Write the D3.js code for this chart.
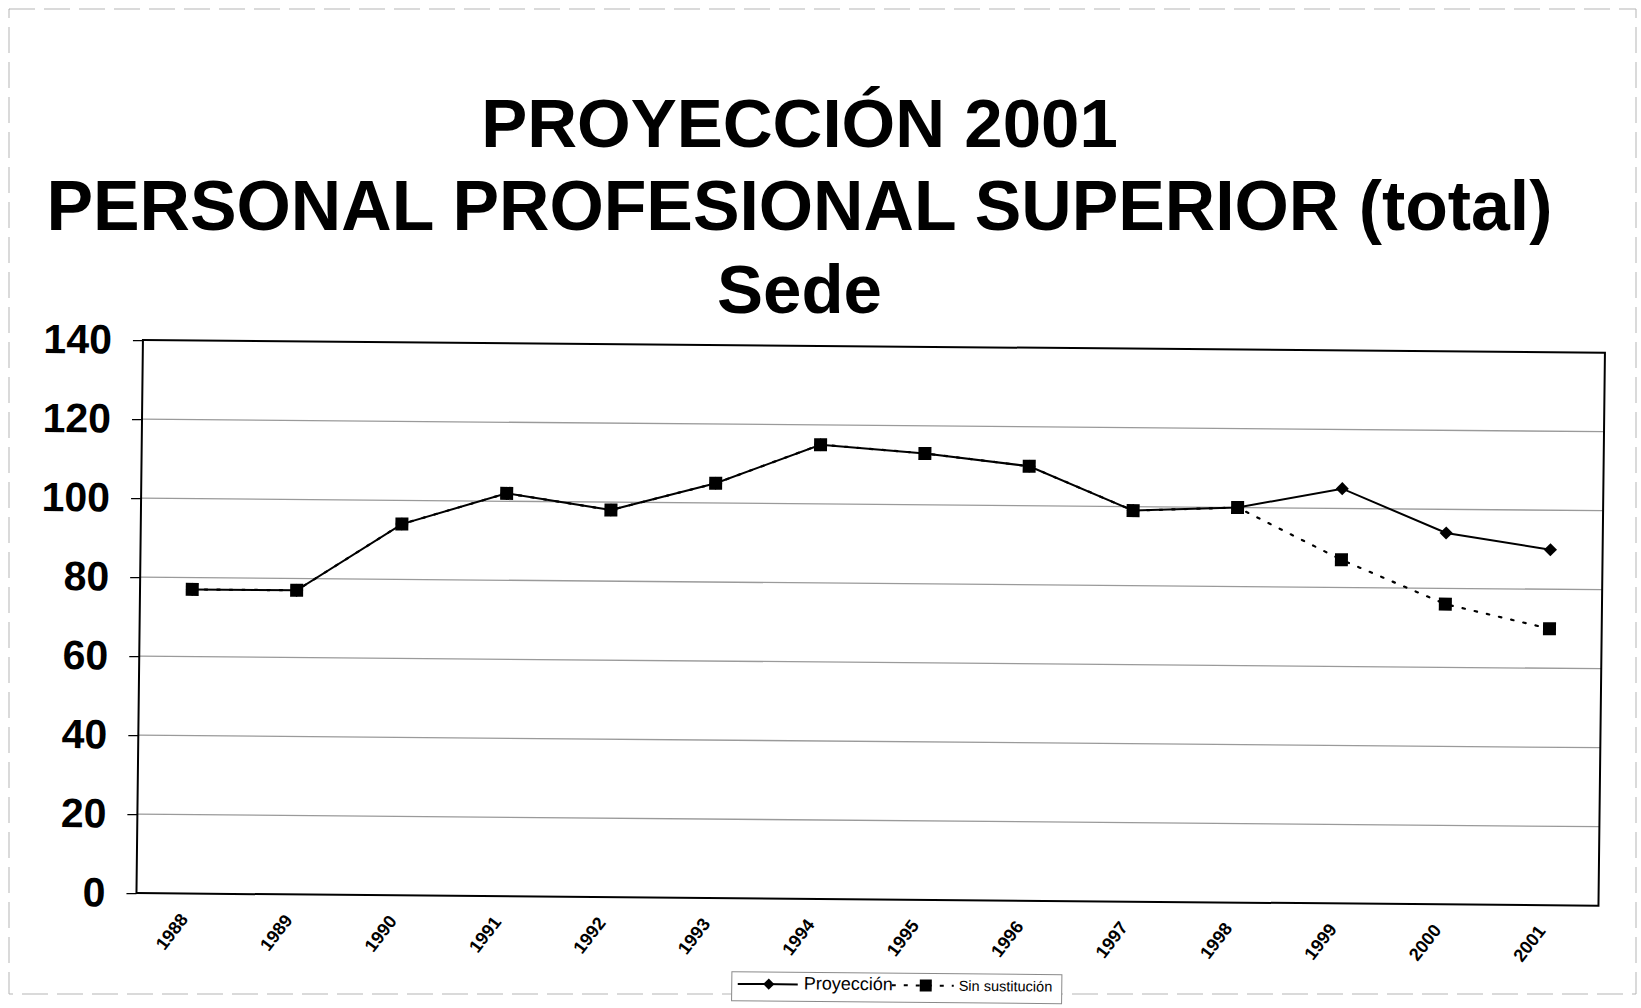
<!DOCTYPE html>
<html>
<head>
<meta charset="utf-8">
<script src="https://cdn.jsdelivr.net/npm/d3@7"></script>
<style>
  html, body { margin: 0; padding: 0; background: #fff; }
  svg { display: block; }
  text { font-family: "Liberation Sans", Arial, Helvetica, sans-serif; }
</style>
</head>
<body>
<svg id="chart" width="1641" height="1008"></svg>
<script>
// ---- data ----
const years = ["1988","1989","1990","1991","1992","1993","1994","1995","1996","1997","1998","1999","2000","2001"];
const proyeccion     = [77, 77, 94, 102, 98, 105, 115, 113, 110, 99, 100, 105, 94, 90];
const sinSustitucion = [77, 77, 94, 102, 98, 105, 115, 113, 110, 99, 100, 87, 76, 70];
const yTicks = [0, 20, 40, 60, 80, 100, 120, 140];
const gridValues = [20, 40, 60, 80, 100, 120];
const titleLines = ["PROYECCIÓN 2001", "PERSONAL PROFESIONAL SUPERIOR (total)", "Sede"];
const seriesNames = ["Proyección", "Sin sustitución"];

// ---- layout ----
const W = 1641, H = 1008;
const x0 = 139.7, x1 = 1601.7, y0 = 346.4, y1 = 899.4;

const svg = d3.select("#chart");
svg.append("rect").attr("width", W).attr("height", H).attr("fill", "#fff");

// faint page/chart border (scan look)
svg.append("rect")
  .attr("x", 9).attr("y", 9).attr("width", 1627).attr("height", 985)
  .attr("fill", "none").attr("stroke", "#b5b5b5").attr("stroke-width", 1)
  .attr("stroke-dasharray", "26,9");

// title
const titleY = [147, 230, 313];
const titleSize = [69, 69.8, 69];
svg.append("g").selectAll("text.title").data(titleLines).join("text")
  .attr("class", "title")
  .attr("x", 799.5)
  .attr("y", (d, i) => titleY[i])
  .attr("text-anchor", "middle")
  .attr("font-size", (d, i) => titleSize[i])
  .attr("font-weight", "bold")
  .attr("fill", "#000")
  .text(d => d);

// main group with slight scan skew
const g = svg.append("g").attr("transform", "matrix(1,0.0086,-0.0117,1,7.29,-7.49)");

const x = d3.scalePoint().domain(years).range([x0, x1]).padding(0.5);
const y = d3.scaleLinear().domain([0, 140]).range([y1, y0]);

// gridlines
g.append("g").selectAll("line").data(gridValues).join("line")
  .attr("x1", x0).attr("x2", x1)
  .attr("y1", d => y(d)).attr("y2", d => y(d))
  .attr("stroke", "#9a9a9a").attr("stroke-width", 1.3);

// plot border
g.append("rect")
  .attr("x", x0).attr("y", y0).attr("width", x1 - x0).attr("height", y1 - y0)
  .attr("fill", "none").attr("stroke", "#000").attr("stroke-width", 2);

// y axis
const yAxis = g.append("g").attr("transform", `translate(${x0},0)`)
  .call(d3.axisLeft(y).tickValues(yTicks).tickSize(10).tickPadding(21));
yAxis.select(".domain").remove();
yAxis.selectAll(".tick line").attr("stroke", "#000").attr("stroke-width", 1.3);
yAxis.selectAll(".tick text")
  .attr("font-size", 41).attr("font-weight", "bold").attr("fill", "#000")
  .attr("font-family", "Liberation Sans, Arial, sans-serif");

// x axis
const xAxis = g.append("g").attr("transform", `translate(0,${y1})`)
  .call(d3.axisBottom(x).tickSize(0).tickPadding(0));
xAxis.select(".domain").remove();
xAxis.selectAll(".tick text")
  .attr("font-size", 18).attr("font-weight", "bold").attr("fill", "#000")
  .attr("font-family", "Liberation Sans, Arial, sans-serif")
  .attr("text-anchor", "end")
  .attr("dy", null)
  .attr("y", 0)
  .attr("transform", "translate(0,26) rotate(-53)");

// lines
const line = d3.line().x((d, i) => x(years[i])).y(d => y(d));

g.append("path").datum(sinSustitucion)
  .attr("d", line).attr("fill", "none")
  .attr("stroke", "#000").attr("stroke-width", 2.2)
  .attr("stroke-dasharray", "2.5,10").attr("stroke-linecap", "round");

g.append("path").datum(proyeccion)
  .attr("d", line).attr("fill", "none")
  .attr("stroke", "#000").attr("stroke-width", 2);

// markers
const diamond = d3.symbol().type(d3.symbolDiamond2).size(110);
g.append("g").selectAll("path").data(proyeccion).join("path")
  .attr("d", diamond)
  .attr("transform", (d, i) => `translate(${x(years[i])},${y(d)})`)
  .attr("fill", "#000");

g.append("g").selectAll("rect").data(sinSustitucion).join("rect")
  .attr("x", (d, i) => x(years[i]) - 6.5)
  .attr("y", d => y(d) - 6.5)
  .attr("width", 13).attr("height", 13)
  .attr("fill", "#000");

// legend
const lg = g.append("g");
lg.append("rect").attr("x", 736).attr("y", 973).attr("width", 330).attr("height", 29)
  .attr("fill", "#fff").attr("stroke", "#8a8a8a").attr("stroke-width", 1);
lg.append("line").attr("x1", 742).attr("x2", 802).attr("y1", 985).attr("y2", 985)
  .attr("stroke", "#000").attr("stroke-width", 2);
lg.append("path").attr("d", d3.symbol().type(d3.symbolDiamond2).size(80))
  .attr("transform", "translate(773,985)").attr("fill", "#000");
lg.append("text").attr("x", 808).attr("y", 990).attr("font-size", 18).attr("fill", "#000")
  .text(seriesNames[0]);
lg.append("line").attr("x1", 896).attr("x2", 958).attr("y1", 985).attr("y2", 985)
  .attr("stroke", "#000").attr("stroke-width", 2).attr("stroke-dasharray", "4,8");
lg.append("rect").attr("x", 924).attr("y", 979).attr("width", 12).attr("height", 12).attr("fill", "#000");
lg.append("text").attr("x", 963).attr("y", 990).attr("font-size", 14.5).attr("fill", "#000")
  .text(seriesNames[1]);
</script>
</body>
</html>
